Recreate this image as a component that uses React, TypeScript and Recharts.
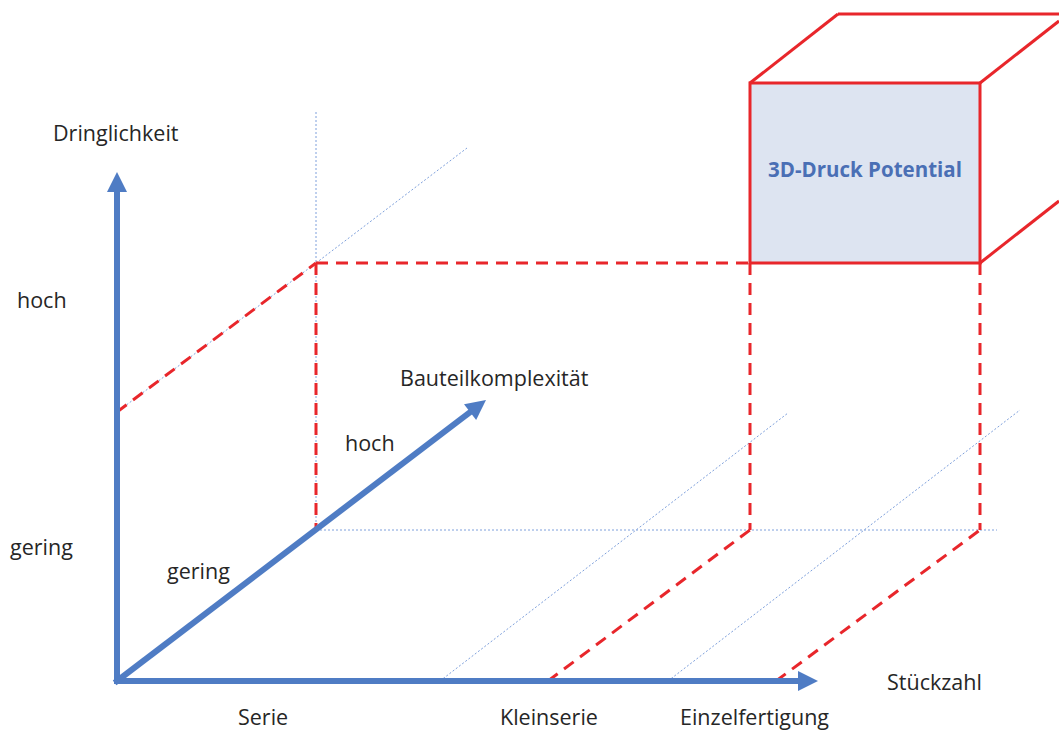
import React from "react";
import {
  ComposedChart,
  XAxis,
  YAxis,
  ReferenceLine,
  ReferenceArea,
  Scatter,
} from "recharts";

const W = 1059;
const H = 731;

// Diagram space: x to the right, y downwards (same orientation as the picture)
const origin = { x: 117, y: 681 };

// The three axes, each an arrow from the origin to its tip
const axisTips = [
  { id: "dringlichkeit", x: 117, y: 172 },
  { id: "stueckzahl", x: 818, y: 681 },
  { id: "bauteilkomplexitaet", x: 486, y: 400 },
];

// Red dashed projection lines [x1, y1, x2, y2]
const redDashed = [
  [117, 412, 316, 263],
  [316, 263, 750, 263],
  [316, 263, 316, 530],
  [750, 263, 750, 530],
  [980, 263, 980, 530],
  [548, 681, 750, 530],
  [776, 681, 980, 530],
];

// Thin dotted helper lines
const blueDotted = [
  [117, 412, 316, 263],
  [316, 112, 316, 530],
  [316, 263, 467, 148],
  [316, 530, 997, 530],
  [440, 681, 788, 413],
  [668, 681, 1020, 410],
];

// The "potential" cube: front face + the receding edges
const cubeFront = { x1: 750, x2: 980, y1: 83, y2: 263 };
const cubeEdges = [
  [750, 83, 838, 14],
  [838, 14, 1059, 14],
  [980, 83, 1059, 21],
  [980, 263, 1059, 201],
];

const labels = [
  { x: 53, y: 132, text: "Dringlichkeit" },
  { x: 17, y: 299, text: "hoch" },
  { x: 10, y: 546, text: "gering" },
  { x: 400, y: 377, text: "Bauteilkomplexität" },
  { x: 345, y: 442, text: "hoch" },
  { x: 167, y: 570, text: "gering" },
  { x: 238, y: 716, text: "Serie" },
  { x: 500, y: 716, text: "Kleinserie" },
  { x: 680, y: 716, text: "Einzelfertigung" },
  { x: 887, y: 681, text: "Stückzahl" },
];

const BLUE = "#4f7cc4";
const RED = "#e8262b";
const DOT = "#7ea0dc";
const FONT = "'Open Sans', Lato, sans-serif";

const Arrow = (props: any) => {
  const { x1, y1, x2, y2 } = props;
  const len = Math.hypot(x2 - x1, y2 - y1);
  const ux = (x2 - x1) / len;
  const uy = (y2 - y1) / len;
  const head = 20;
  const half = 10;
  const bx = x2 - ux * head;
  const by = y2 - uy * head;
  const pts = [
    [x2, y2],
    [bx - uy * half, by + ux * half],
    [bx + uy * half, by - ux * half],
  ]
    .map((p) => p.join(","))
    .join(" ");
  return (
    <g>
      <line x1={x1} y1={y1} x2={bx + ux * 2} y2={by + uy * 2} stroke={BLUE} strokeWidth={6} strokeLinecap="square" />
      <polygon points={pts} fill={BLUE} />
    </g>
  );
};

export default function App() {
  return (
    <div style={{ position: "absolute", left: 0, top: 0, background: "#fff" }}>
      <ComposedChart width={W} height={H} margin={{ top: 0, right: 0, bottom: 0, left: 0 }}>
        <XAxis type="number" dataKey="x" domain={[0, W]} hide allowDataOverflow />
        <YAxis type="number" dataKey="y" domain={[0, H]} reversed hide allowDataOverflow />

        {blueDotted.map((s, i) => (
          <ReferenceLine
            key={`dot-${i}`}
            segment={[{ x: s[0], y: s[1] }, { x: s[2], y: s[3] }]}
            stroke={DOT}
            strokeWidth={1}
            strokeDasharray="2 2"
            ifOverflow="visible"
          />
        ))}

        <ReferenceArea
          x1={cubeFront.x1}
          x2={cubeFront.x2}
          y1={cubeFront.y1}
          y2={cubeFront.y2}
          fill="#dde4f1"
          fillOpacity={1}
          stroke={RED}
          strokeWidth={3}
          ifOverflow="visible"
          label={{
            value: "3D-Druck Potential",
            position: "center",
            fill: "#4a6fb5",
            fontSize: 20.5,
            fontWeight: 700,
            fontFamily: FONT,
            dy: -3,
          }}
        />
        {cubeEdges.map((s, i) => (
          <ReferenceLine
            key={`cube-${i}`}
            segment={[{ x: s[0], y: s[1] }, { x: s[2], y: s[3] }]}
            stroke={RED}
            strokeWidth={3}
            ifOverflow="visible"
          />
        ))}

        {redDashed.map((s, i) => (
          <ReferenceLine
            key={`red-${i}`}
            segment={[{ x: s[0], y: s[1] }, { x: s[2], y: s[3] }]}
            stroke={RED}
            strokeWidth={3}
            strokeDasharray="12 8"
            ifOverflow="visible"
          />
        ))}

        {axisTips.map((t) => (
          <ReferenceLine
            key={t.id}
            segment={[{ x: origin.x, y: origin.y }, { x: t.x, y: t.y }]}
            ifOverflow="visible"
            shape={Arrow}
          />
        ))}

        <Scatter
          data={labels}
          dataKey="y"
          isAnimationActive={false}
          shape={(p: any) => (
            <text
              x={p.cx}
              y={p.cy}
              dominantBaseline="central"
              fill="#262626"
              fontSize={21.5}
              fontFamily={FONT}
            >
              {p.payload.text}
            </text>
          )}
        />
      </ComposedChart>
    </div>
  );
}
